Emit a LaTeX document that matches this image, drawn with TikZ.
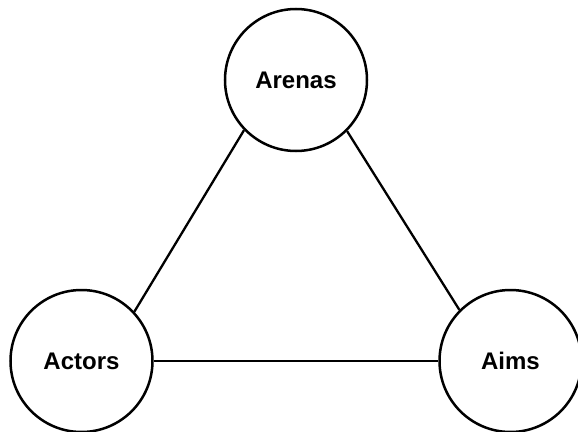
\documentclass[tikz,border=0pt]{standalone}
\usepackage{fontspec}
\setmainfont{Liberation Sans}
\usepackage{xcolor}
\usepackage{tikz}
\usetikzlibrary{arrows, arrows.meta}
\usetikzlibrary{positioning}
\usetikzlibrary{calc}

\begin{document}
\begin{tikzpicture}[x=1pt, y=1pt, line width=2.3pt]
	\newcommand\distOne{214.5}
	\newcommand\distTwo{281}
	\useasboundingbox (-296,-351) rectangle (282,80);
	\tikzset{aspect/.style={circle, draw=black, line width=2.5pt, fill=white, inner sep=0pt, minimum size=142pt, font=\fontsize{24}{28}\selectfont\bfseries}}
	\node[aspect] (arenas) at (0,0){Arenas};
	\node[aspect] (actors) at (-\distOne,-\distTwo){Actors};
	\node[aspect] (aims) at ( \distOne,-\distTwo){Aims};
	\draw[-] (arenas.224) -- (actors.43);
	\draw[-] (arenas.315) -- (aims.135);
	\draw[-] (actors) -- (aims);
\end{tikzpicture}
\end{document}
